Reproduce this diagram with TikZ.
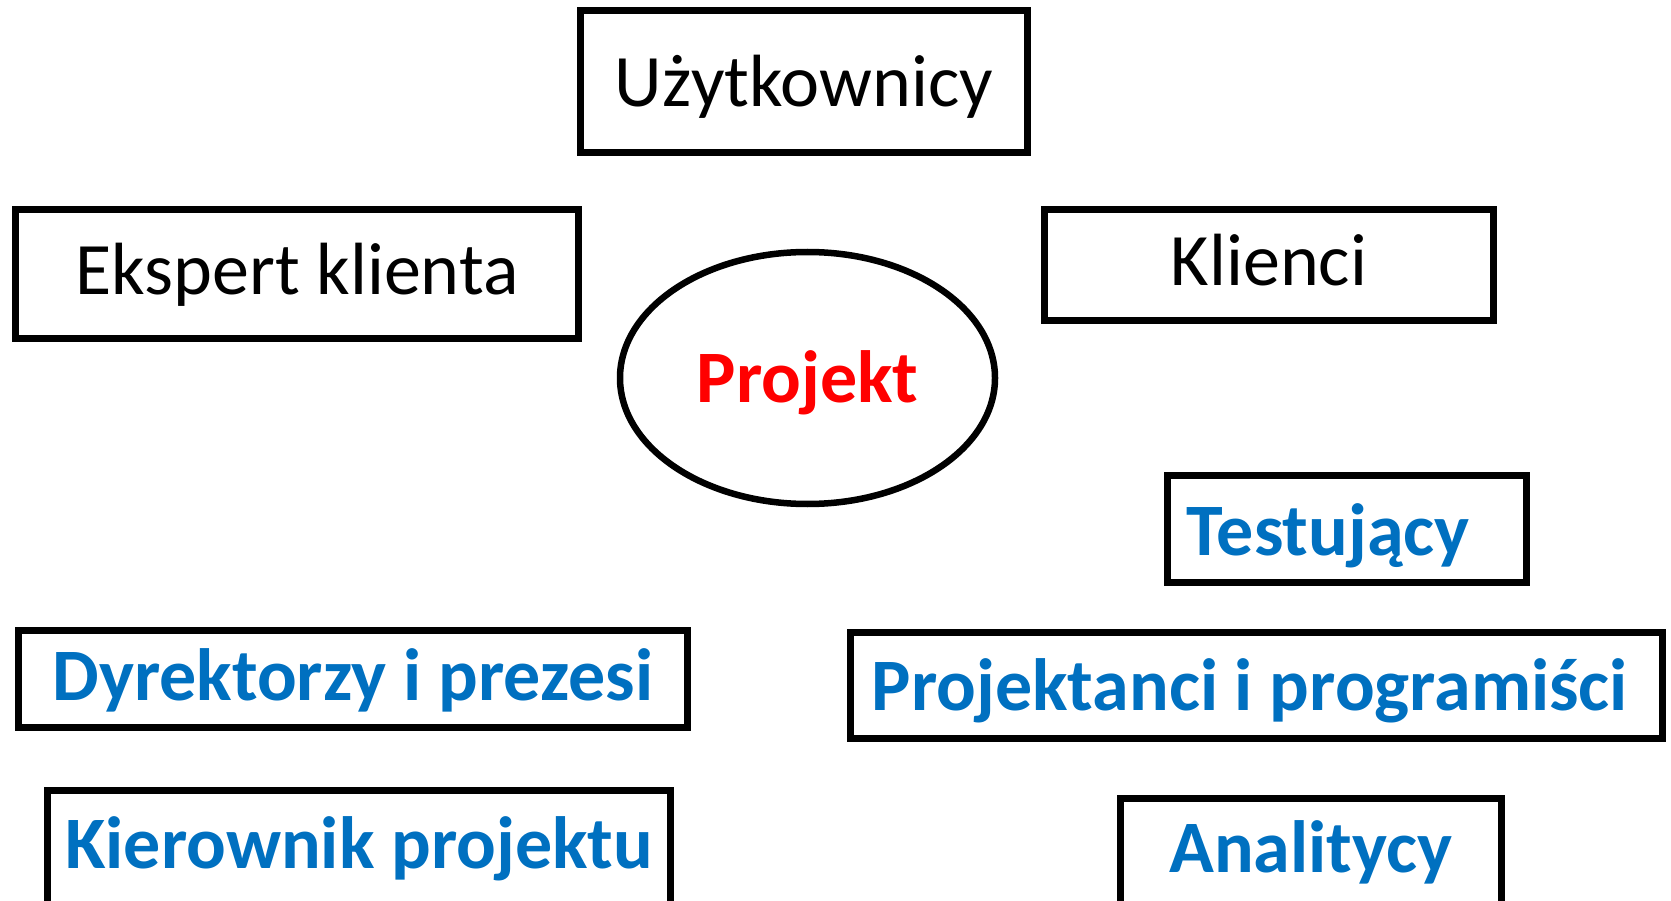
\documentclass[tikz,border=0pt]{standalone}
\usepackage{fontspec}
\setmainfont{Carlito}
\usetikzlibrary{shapes.geometric}
\definecolor{plblue}{HTML}{0070C0}
\definecolor{plred}{HTML}{FF0000}
\tikzset{
  rola/.style={draw, line width=7pt, inner sep=0pt, anchor=base,
    font=\fontsize{74}{88}\selectfont},
  wykonawca/.style={rola, text=plblue, font=\bfseries\fontsize{74}{88}\selectfont}
}

\begin{document}
\begin{tikzpicture}[x=1pt, y=-1pt]
  \useasboundingbox (0, 0) rectangle (1671, 901);
  \clip (0, 0) rectangle (1671, 901);
  % strona klienta
  \node[rola, minimum width = 447pt, text height = 96pt, text depth = 46pt] (uzyt) at (804, 107) {Użytkownicy};
  \node[rola, minimum width = 563pt, text height = 85pt, text depth = 44pt] (ekspert) at (297, 295) {Ekspert klienta};
  \node[rola, minimum width = 449pt, text height = 76pt, text depth = 35pt] (klienci) at (1269, 286) {Klienci};
  % projekt
  \node[draw, ellipse, line width = 6.5pt, inner sep = 0pt, minimum width = 375pt, minimum height = 252pt,
        text = plred, font = \bfseries\fontsize{74}{88}\selectfont, text height = 48pt, text depth = 0pt] (projekt) at (807.5, 378) {Projekt};
  % strona wykonawcy
  \node[wykonawca, minimum width = 359pt, text height = 80pt, text depth = 27pt] (test) at (1347, 555) {Testujący\hspace*{38pt}};
  \node[wykonawca, minimum width = 669pt, text height = 70pt, text depth = 27pt] (dyr) at (353, 700) {Dyrektorzy i prezesi};
  \node[wykonawca, minimum width = 812pt, text height = 78pt, text depth = 28pt] (progr) at (1256.5, 710) {Projektanci i programiści\hspace*{13pt}};
  \node[wykonawca, minimum width = 623pt, text height = 78pt, text depth = 80pt] (kier) at (359, 868) {Kierownik projektu};
  \node[wykonawca, minimum width = 381pt, text height = 74pt, text depth = 80pt] (anal) at (1311, 872) {Analitycy};
\end{tikzpicture}
\end{document}
